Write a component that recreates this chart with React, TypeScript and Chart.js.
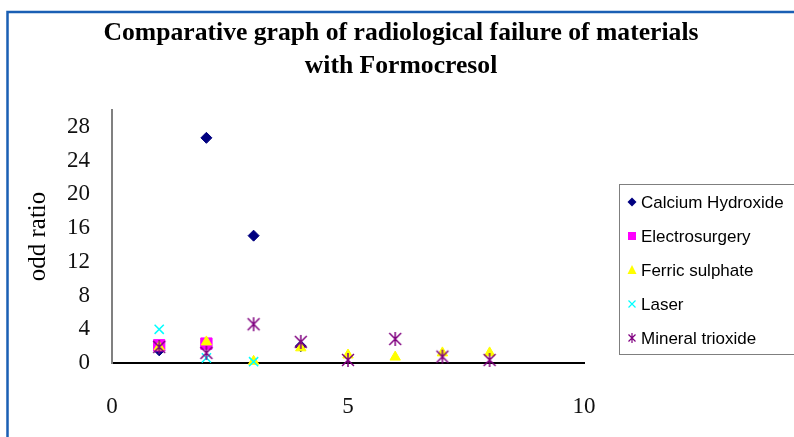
import React, { useEffect, useRef } from "react";
import { Chart, registerables } from "chart.js";

Chart.register(...registerables);

const TITLE_LINES = ["Comparative graph of radiological failure of materials", "with Formocresol"];
const Y_TITLE = "odd ratio";
const X_TICKS = [0, 5, 10];
const Y_TICKS = [0, 4, 8, 12, 16, 20, 24, 28];

const SERIES_NAMES = ["Calcium Hydroxide", "Electrosurgery", "Ferric sulphate", "Laser", "Mineral trioxide"];

const calciumX = [1, 2, 3, 4];
const calciumY = [1.5, 26.7, 15.1, 2.0];
const electroX = [1, 2];
const electroY = [2.1, 2.3];
const ferricX = [1, 2, 3, 4, 5, 6, 7, 8];
const ferricY = [1.9, 2.5, 0.2, 1.8, 0.95, 0.7, 1.2, 1.2];
const laserX = [1, 2, 3];
const laserY = [4.0, 0.6, 0.15];
const mineralX = [1, 2, 3, 4, 5, 6, 7, 8];
const mineralY = [1.9, 1.2, 4.6, 2.5, 0.36, 2.85, 0.75, 0.36];

const COLORS = ["#000080", "#FF00FF", "#FFFF00", "#00FFFF", "#800080"];

function pairs(xs: number[], ys: number[]) {
  return xs.map((x, i) => ({ x, y: ys[i] }));
}

function makeAsterisk(color: string, r: number) {
  const c = document.createElement("canvas");
  const s = Math.ceil(r * 2 + 4);
  c.width = s;
  c.height = s;
  const ctx = c.getContext("2d")!;
  const m = s / 2;
  ctx.strokeStyle = color;
  ctx.lineWidth = 1.5;
  ctx.beginPath();
  const d = r * 0.85;
  ctx.moveTo(m - d, m - d);
  ctx.lineTo(m + d, m + d);
  ctx.moveTo(m + d, m - d);
  ctx.lineTo(m - d, m + d);
  ctx.moveTo(m, m - r);
  ctx.lineTo(m, m + r);
  ctx.stroke();
  return c;
}

function drawMarker(ctx: CanvasRenderingContext2D, idx: number, x: number, y: number) {
  const color = COLORS[idx];
  ctx.save();
  ctx.fillStyle = color;
  ctx.strokeStyle = color;
  ctx.lineWidth = 1.2;
  ctx.beginPath();
  if (idx === 0) {
    const r = 4.5;
    ctx.moveTo(x, y - r);
    ctx.lineTo(x + r, y);
    ctx.lineTo(x, y + r);
    ctx.lineTo(x - r, y);
    ctx.closePath();
    ctx.fill();
  } else if (idx === 1) {
    ctx.rect(x - 4, y - 4, 8, 8);
    ctx.fill();
  } else if (idx === 2) {
    ctx.moveTo(x, y - 5);
    ctx.lineTo(x + 4.5, y + 4);
    ctx.lineTo(x - 4.5, y + 4);
    ctx.closePath();
    ctx.fill();
  } else if (idx === 3) {
    const d = 3.5;
    ctx.moveTo(x - d, y - d);
    ctx.lineTo(x + d, y + d);
    ctx.moveTo(x + d, y - d);
    ctx.lineTo(x - d, y + d);
    ctx.stroke();
  } else {
    const d = 3.5;
    ctx.moveTo(x - d, y - d);
    ctx.lineTo(x + d, y + d);
    ctx.moveTo(x + d, y - d);
    ctx.lineTo(x - d, y + d);
    ctx.moveTo(x, y - 5);
    ctx.lineTo(x, y + 5);
    ctx.stroke();
  }
  ctx.restore();
}

const framePlugin = {
  id: "frame",
  beforeDraw(chart: any) {
    const ctx = chart.ctx as CanvasRenderingContext2D;
    ctx.save();
    ctx.fillStyle = "#ffffff";
    ctx.fillRect(0, 0, chart.width, chart.height);
    ctx.strokeStyle = "#1a5fb4";
    ctx.lineWidth = 2.5;
    ctx.strokeRect(7.5, 12, chart.width + 20, chart.height + 20);
    ctx.restore();
  },
  afterDraw(chart: any) {
    const ctx = chart.ctx as CanvasRenderingContext2D;
    // title
    ctx.save();
    ctx.fillStyle = "#000000";
    ctx.font = 'bold 26px "Liberation Serif"';
    ctx.textAlign = "center";
    ctx.textBaseline = "alphabetic";
    const w = ctx.measureText(TITLE_LINES[0]).width;
    const sx = 595 / w;
    const baselines = [40, 73];
    TITLE_LINES.forEach((line, i) => {
      ctx.save();
      ctx.translate(401, baselines[i]);
      ctx.scale(sx, 1);
      ctx.fillText(line, 0, 0);
      ctx.restore();
    });
    ctx.restore();

    // legend
    ctx.save();
    ctx.strokeStyle = "#7f7f7f";
    ctx.lineWidth = 1;
    ctx.strokeRect(619.5, 184.5, 220, 170);
    ctx.font = '17px "Liberation Sans"';
    ctx.fillStyle = "#000000";
    ctx.textAlign = "left";
    ctx.textBaseline = "middle";
    const ys = [202, 236, 270, 304, 338];
    SERIES_NAMES.forEach((name, i) => {
      drawMarker(ctx, i, 632, ys[i]);
      ctx.fillText(name, 641, ys[i] + 1);
    });
    ctx.restore();
  },
};

export default function App() {
  const ref = useRef<HTMLCanvasElement>(null);
  useEffect(() => {
    document.body.style.margin = "0";
    const star = makeAsterisk(COLORS[4], 7);
    const chart = new Chart(ref.current!, {
      type: "scatter",
      data: {
        datasets: [
          {
            label: SERIES_NAMES[0],
            data: pairs(calciumX, calciumY),
            pointStyle: "rectRot",
            pointRadius: 5.5,
            backgroundColor: COLORS[0],
            borderColor: COLORS[0],
            borderWidth: 1,
            order: 5,
            clip: false,
          },
          {
            label: SERIES_NAMES[1],
            data: pairs(electroX, electroY),
            pointStyle: "rect",
            pointRadius: 8,
            backgroundColor: COLORS[1],
            borderColor: COLORS[1],
            borderWidth: 1,
            order: 4,
            clip: false,
          },
          {
            label: SERIES_NAMES[2],
            data: pairs(ferricX, ferricY),
            pointStyle: "triangle",
            pointRadius: 6,
            backgroundColor: COLORS[2],
            borderColor: COLORS[2],
            borderWidth: 1,
            order: 3,
            clip: false,
          },
          {
            label: SERIES_NAMES[3],
            data: pairs(laserX, laserY),
            pointStyle: "crossRot",
            pointRadius: 6.5,
            backgroundColor: COLORS[3],
            borderColor: COLORS[3],
            borderWidth: 1.5,
            order: 2,
            clip: false,
          },
          {
            label: SERIES_NAMES[4],
            data: pairs(mineralX, mineralY),
            pointStyle: star as any,
            pointRadius: 7,
            backgroundColor: COLORS[4],
            borderColor: COLORS[4],
            order: 1,
            clip: false,
          },
        ],
      },
      options: {
        animation: false,
        responsive: false,
        events: [],
        layout: { padding: { left: 0, right: 210, top: 110, bottom: 0 } },
        plugins: {
          legend: { display: false },
          title: { display: false },
          tooltip: { enabled: false },
        },
        scales: {
          x: {
            type: "linear",
            min: 0,
            max: 10,
            afterBuildTicks: (s: any) => {
              s.ticks = X_TICKS.map((v) => ({ value: v }));
            },
            afterFit: (s: any) => {
              s.height = 74;
            },
            grid: { display: false, drawTicks: false },
            border: { display: true, color: "#000000", width: 2 },
            ticks: {
              padding: 30,
              color: "#111111",
              font: { family: '"Liberation Serif"', size: 23 },
            },
          },
          y: {
            type: "linear",
            min: 0,
            max: 30,
            afterBuildTicks: (s: any) => {
              s.ticks = Y_TICKS.map((v) => ({ value: v }));
            },
            afterFit: (s: any) => {
              s.width = 112;
            },
            grid: { display: false, drawTicks: false },
            border: { display: true, color: "#808080", width: 2 },
            ticks: {
              padding: 22,
              color: "#111111",
              font: { family: '"Liberation Serif"', size: 23 },
            },
            title: {
              display: true,
              text: Y_TITLE,
              color: "#000000",
              font: { family: '"Liberation Serif"', size: 25 },
              padding: { top: 23, bottom: 0 },
            },
          },
        },
      },
      plugins: [framePlugin],
    });
    return () => chart.destroy();
  }, []);
  return (
    <div style={{ width: 794, height: 437 }}>
      <canvas ref={ref} width={794} height={437} style={{ display: "block" }} />
    </div>
  );
}
